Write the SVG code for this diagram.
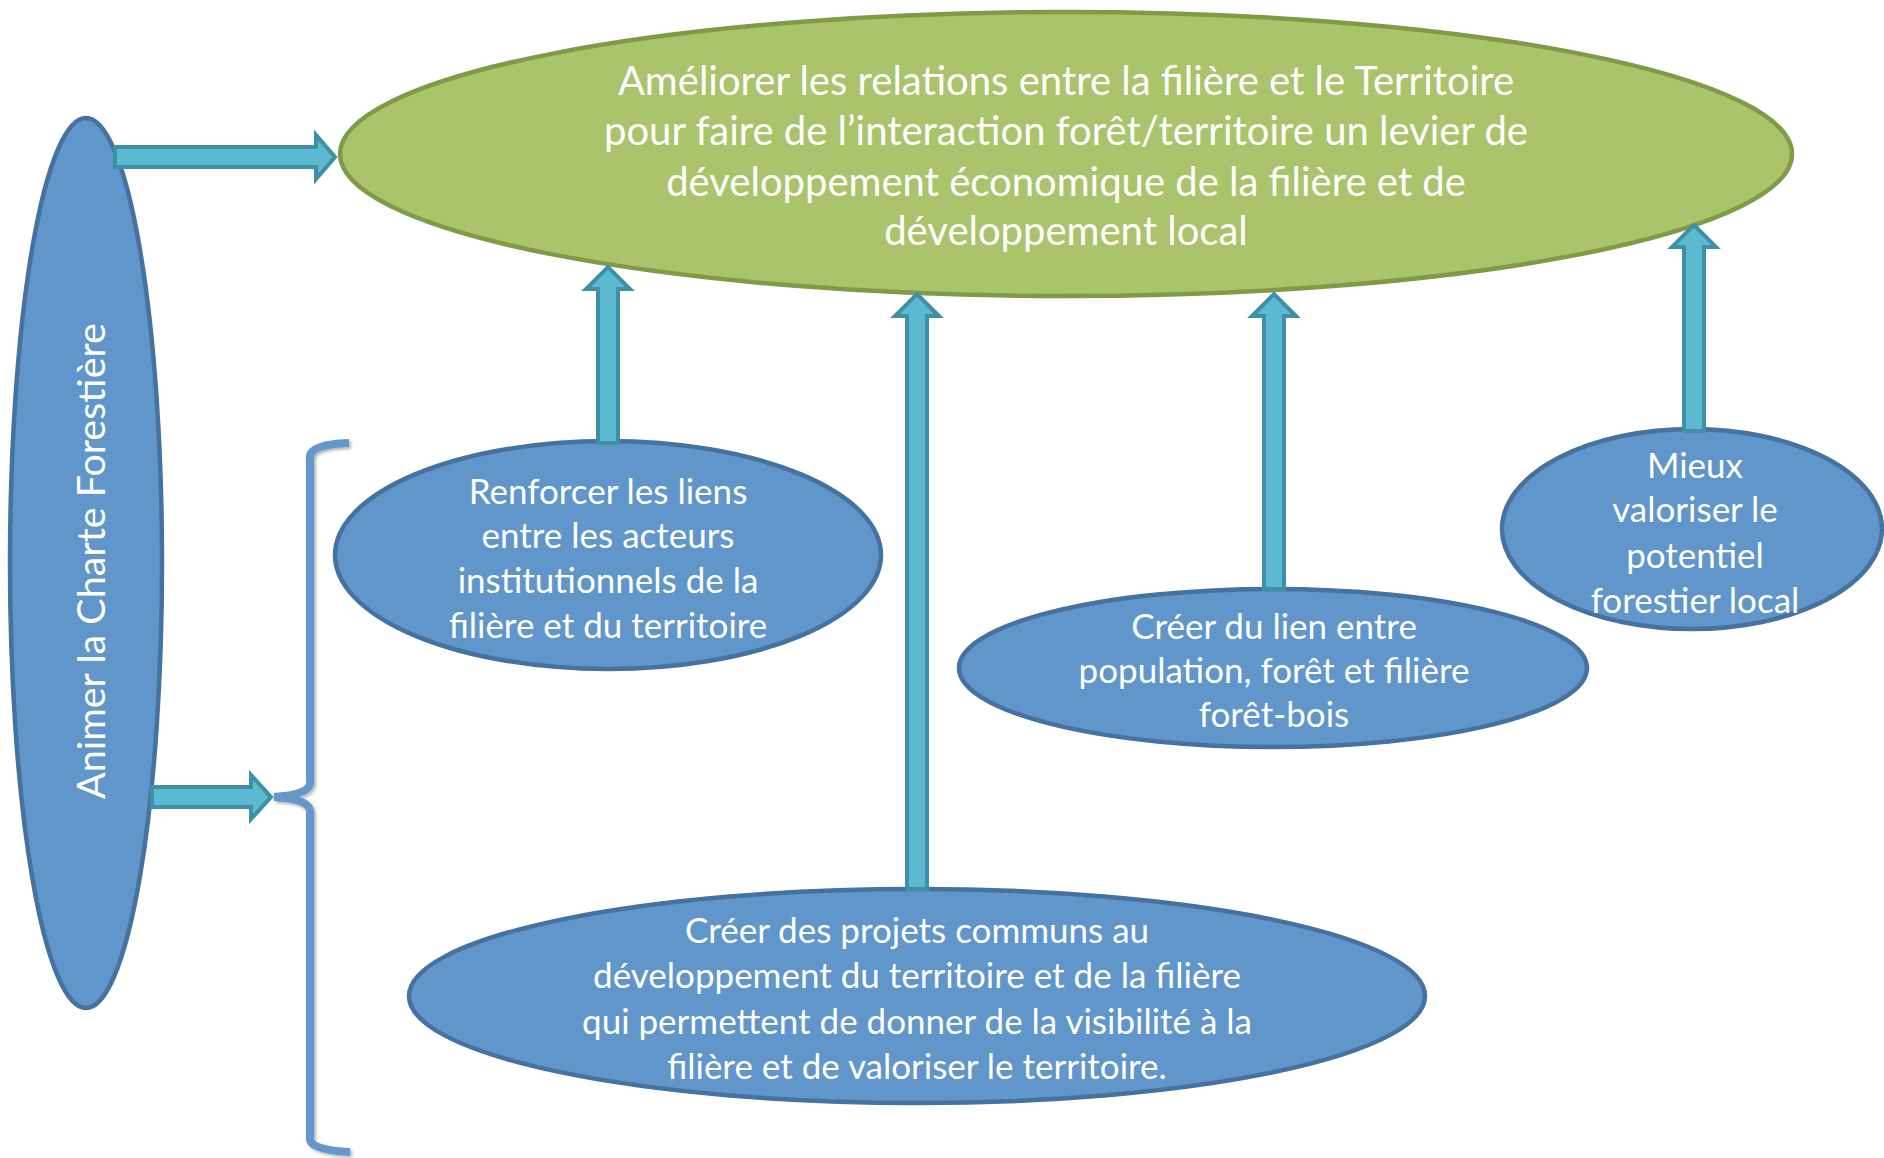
<svg xmlns="http://www.w3.org/2000/svg" width="1884" height="1158" viewBox="0 0 1884 1158">
<style>
.node{fill:#6096C9;stroke:#45729F;stroke-width:4.5}
.goal{fill:#AAC46C;stroke:#809B47;stroke-width:4.5}
.arr{fill:#5BB9D1;stroke:#3F90A4;stroke-width:4;stroke-linejoin:miter}
.t{font-family:Lato,"Open Sans",sans-serif;fill:#ffffff;text-anchor:middle;font-size:35px}
.tt{font-size:40px}
.brace{fill:none;stroke:#6598CA;stroke-width:8}
</style>
<defs>
<filter id="sh" x="-20%" y="-5%" width="140%" height="110%">
<feGaussianBlur in="SourceAlpha" stdDeviation="1.5"/>
<feOffset dx="2" dy="2" result="b"/>
<feComponentTransfer><feFuncA type="linear" slope="0.3"/></feComponentTransfer>
<feMerge><feMergeNode/><feMergeNode in="SourceGraphic"/></feMerge>
</filter>
</defs>
<rect width="1884" height="1158" fill="#ffffff"/>
<g id="goal">
<ellipse class="goal" cx="1066" cy="154" rx="726" ry="142"/>
<text class="t tt"><tspan x="1066" y="95">Améliorer les relations entre la filière et le Territoire</tspan><tspan x="1066" y="145">pour faire de l’interaction forêt/territoire un levier de</tspan><tspan x="1066" y="196">développement économique de la filière et de</tspan><tspan x="1066" y="245">développement local</tspan></text>
</g>
<g id="animer">
<ellipse class="node" cx="86" cy="563" rx="76" ry="445"/>
<text class="t" style="font-size:39.5px" transform="translate(105,561) rotate(-90)" x="0" y="0">Animer la Charte Forestière</text>
</g>
<g id="renforcer">
<ellipse class="node" cx="608" cy="555" rx="273" ry="114"/>
<text class="t"><tspan x="608" y="504">Renforcer les liens</tspan><tspan x="608" y="548">entre les acteurs</tspan><tspan x="608" y="593">institutionnels de la</tspan><tspan x="608" y="638">filière et du territoire</tspan></text>
</g>
<g id="lien">
<ellipse class="node" cx="1273" cy="668" rx="314" ry="79"/>
<text class="t"><tspan x="1274" y="639">Créer du lien entre</tspan><tspan x="1274" y="683">population, forêt et filière</tspan><tspan x="1274" y="727">forêt-bois</tspan></text>
</g>
<g id="mieux">
<ellipse class="node" cx="1692" cy="529" rx="190" ry="100"/>
<text class="t"><tspan x="1695" y="478">Mieux</tspan><tspan x="1695" y="522">valoriser le</tspan><tspan x="1695" y="568">potentiel</tspan><tspan x="1695" y="613">forestier local</tspan></text>
</g>
<g id="projets">
<ellipse class="node" cx="917" cy="996" rx="508" ry="107"/>
<text class="t"><tspan x="917" y="943">Créer des projets communs au</tspan><tspan x="917" y="988">développement du territoire et de la filière</tspan><tspan x="917" y="1034">qui permettent de donner de la visibilité à la</tspan><tspan x="917" y="1079">filière et de valoriser le territoire.</tspan></text>
</g>
<g id="connectors">
<path class="brace" filter="url(#sh)" d="M349 443 Q312 444 310 456 L310 783 Q309 795 274 797 Q309 799 310 811 L310 1140 Q312 1150 350 1152"/>
<path class="arr" d="M115 147 L316 147 L316 135 L335 157 L316 179 L316 167 L115 167 Z"/>
<path class="arr" d="M152 787 L251 787 L251 775 L271 797 L251 819 L251 807 L152 807 Z"/>
<path class="arr" d="M598 443 L598 289 L586 289 L608 267 L630 289 L618 289 L618 443 Z"/>
<path class="arr" d="M907 889 L907 316 L895 316 L917 294 L939 316 L927 316 L927 889 Z"/>
<path class="arr" d="M1264 589 L1264 316 L1252 316 L1274 294 L1296 316 L1284 316 L1284 589 Z"/>
<path class="arr" d="M1684 431 L1684 247 L1672 247 L1694 225 L1716 247 L1704 247 L1704 431 Z"/>
</g>
</svg>
